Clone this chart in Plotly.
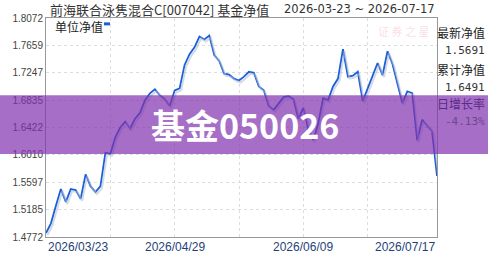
import plotly.graph_objects as go

# ---- data ----
nav_values = [
    1.4831, 1.4978, 1.5243, 1.5494, 1.5302, 1.5494, 1.5479, 1.5347, 1.5715, 1.5538,
    1.5450, 1.5538, 1.6039, 1.6024, 1.6275, 1.6422, 1.6510, 1.6407, 1.6555, 1.6643,
    1.6834, 1.6938, 1.6997, 1.6908, 1.6849, 1.6746, 1.6982, 1.7011, 1.7365, 1.7527,
    1.7630, 1.7792, 1.7748, 1.7807, 1.7512, 1.7424, 1.7232, 1.7218, 1.7159, 1.7129,
    1.7188, 1.7262, 1.7247, 1.7041, 1.6982, 1.6746, 1.6687, 1.6790, 1.6879, 1.6893,
    1.6849, 1.6555, 1.6717, 1.6393, 1.6230, 1.6481, 1.6864, 1.6834, 1.7041, 1.7159,
    1.7601, 1.7188, 1.7203, 1.7262, 1.6820, 1.7011, 1.7203, 1.7394, 1.7210, 1.7571,
    1.7380, 1.7070, 1.6790, 1.6967, 1.6938, 1.6230, 1.6540, 1.6451, 1.6367, 1.5691,
]
x_idx = list(range(len(nav_values)))
y_ticks = [1.4772, 1.5185, 1.5597, 1.6010, 1.6422, 1.6835, 1.7247, 1.7659, 1.8072]
x_grid_idx = [13, 26, 39, 52, 65]
date_labels = ["2026/03/23", "2026/04/29", "2026/06/09", "2026/07/17"]
date_label_idx = [0, 26, 52, 79]
title_text = "前海联合泳隽混合C[007042] 基金净值"
range_text = "2026-03-23 ~ 2026-07-17"
side_labels = ["最新净值", "1.5691", "累计净值", "1.6491", "日增长率", "-4.13%"]
watermark_text = "基金050026"

y_lo, y_hi = 1.4772, 1.8072
n = len(nav_values)
px_per_idx = 391 / (n - 1)
px_per_val = 224 / (y_hi - y_lo)

fig = go.Figure()
# shadow
fig.add_trace(go.Scatter(x=x_idx, y=nav_values, mode="lines", xaxis="x2", yaxis="y2",
                         line=dict(color="rgba(175,188,210,0.55)", width=2),
                         hoverinfo="skip", showlegend=False))
fig.add_trace(go.Scatter(x=x_idx, y=nav_values, mode="lines",
                         line=dict(color="#1a5ed8", width=1.8), showlegend=False))

sx = 1.5 / px_per_idx
sy = 2 / px_per_val
fig.update_layout(
    width=488, height=255,
    margin=dict(l=46, r=51, t=18, b=13),
    paper_bgcolor="white", plot_bgcolor="white",
    xaxis=dict(range=[0, n - 1], tickvals=x_grid_idx, showticklabels=False,
               showgrid=True, gridcolor="#dddddd", griddash="dot", gridwidth=1,
               zeroline=False, showline=True, linecolor="#999999", linewidth=1,
               mirror=True, ticks=""),
    yaxis=dict(range=[y_lo, y_hi], tickvals=y_ticks, tickformat=".4f",
               showgrid=True, gridcolor="#dddddd", griddash="dot", gridwidth=1,
               zeroline=False, showline=True, linecolor="#999999", linewidth=1,
               mirror=True, ticks="", ticklen=0,
               tickfont=dict(family="Liberation Sans, Arial", size=10, color="#444444")),
    xaxis2=dict(range=[0 - sx, n - 1 - sx], overlaying="x", visible=False),
    yaxis2=dict(range=[y_lo + sy, y_hi + sy], overlaying="y", visible=False),
)

ann = []
def P(px, py):
    return (px - 46) / 391, (242 - py) / 224

tx, ty = P(48, 9)
ann.append(dict(text=title_text, x=tx, y=ty, xanchor="left", yanchor="middle",
                font=dict(family="Noto Sans CJK SC", size=13, color="#333333")))
tx, ty = P(437, 9)
ann.append(dict(text=range_text, x=tx, y=ty, xanchor="right", yanchor="middle",
                font=dict(family="DejaVu Sans", size=11.5, color="#333333")))
# legend
tx, ty = P(53, 27)
ann.append(dict(text="单位净值", x=tx, y=ty, xanchor="left", yanchor="middle",
                font=dict(family="Noto Sans CJK SC", size=12, color="#222222")))
# faint watermark logo
tx, ty = P(403, 31)
ann.append(dict(text="证 券 之 星", x=tx, y=ty, xanchor="center", yanchor="middle",
                font=dict(family="Noto Sans CJK SC", size=11, color="rgba(240,160,170,0.35)")))
# side panel
side_y = [33, 51, 71, 89, 105, 124]
side_font = [("Noto Sans CJK SC", 12, "#222222"), ("DejaVu Sans Mono", 11, "#333333"),
             ("Noto Sans CJK SC", 12, "#222222"), ("DejaVu Sans Mono", 11, "#333333"),
             ("Noto Sans CJK SC", 12, "#5a2c86"), ("DejaVu Sans Mono", 11, "#6a4a8a")]
for lbl, yy, (fam, sz, col) in zip(side_labels, side_y, side_font):
    tx, ty = P(487, yy)
    ann.append(dict(text=lbl, x=tx, y=ty, xanchor="right", yanchor="middle",
                    font=dict(family=fam, size=sz, color=col)))
# date labels
anchors = ["left", "center", "center", "right"]
for lbl, xi, an in zip(date_labels, date_label_idx, anchors):
    ann.append(dict(text=lbl, x=xi, xref="x", y=-0.005, yref="paper", xanchor=an,
                    yanchor="top", font=dict(family="Liberation Sans, Arial", size=12, color="#1f3f7a")))
# big white text over the band
tx, ty = P(245, 127)
ann.append(dict(text="<b>" + watermark_text + "</b>", x=tx, y=ty, xanchor="center", yanchor="middle",
                font=dict(family="Noto Sans CJK SC", size=34, color="white")))
for a in ann:
    a.setdefault("xref", "paper")
    a.setdefault("yref", "paper")
    a["showarrow"] = False
fig.update_layout(annotations=ann)

shapes = []
# legend dash
x0, y0 = P(104, 24)
x1, _ = P(110, 24)
shapes.append(dict(type="line", xref="paper", yref="paper", x0=x0, x1=x1, y0=y0, y1=y0,
                   line=dict(color="#1a5ed8", width=3)))
# purple band
_, by0 = P(0, 157)
_, by1 = P(0, 97)
shapes.append(dict(type="rect", xref="paper", yref="paper", x0=-46 / 391, x1=(488 - 46) / 391,
                   y0=by0, y1=by1, fillcolor="rgba(128,49,174,0.7)", line=dict(width=0),
                   layer="above"))
fig.update_layout(shapes=shapes)

fig.write_html("out.html")
